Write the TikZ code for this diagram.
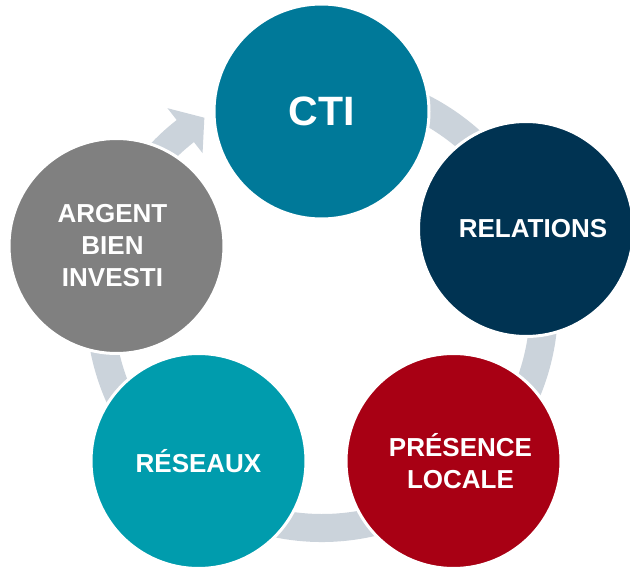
\documentclass[tikz,border=0pt]{standalone}
\usepackage{fontspec}
\setmainfont{Liberation Sans}
\usetikzlibrary{positioning,calc}

\definecolor{ctiblue}{RGB}{0,121,153}
\definecolor{relnavy}{RGB}{0,51,82}
\definecolor{prered}{RGB}{168,0,20}
\definecolor{resteal}{RGB}{0,156,173}
\definecolor{arggray}{RGB}{128,128,128}
\definecolor{ringgray}{RGB}{203,211,219}

\begin{document}
\begin{tikzpicture}[
  x=1pt, y=1pt,
  stage/.style={circle, draw=white, line width=3pt, minimum size=215pt, inner sep=0pt},
  stagetext/.style={text=white, align=center, font=\bfseries\fontsize{26}{32}\selectfont},
  ring/.style={fill=ringgray}
]
\useasboundingbox (0,0) rectangle (630,568);

% =======================================================
%                     CYCLE ARROW
% =======================================================
\coordinate (hub) at (322,262);
\fill[ring, shift={(hub)}] (128:208) arc[start angle=128, end angle=460, radius=208]
  -- (460:236) arc[start angle=460, end angle=128, radius=236]
  -- (128:251) -- (122:222) -- (128:194) -- cycle;

% =======================================================
%                     STAGES
% =======================================================
\node[stage, fill=ctiblue, stagetext, font=\bfseries\fontsize{41}{48}\selectfont] (cti) at (321.5,456.5) {CTI};
\node[stage, fill=relnavy, label={[stagetext, xshift=7pt]center:RELATIONS}] (rel) at (526,339) {};
\node[stage, fill=prered, label={[stagetext, xshift=7pt]center:PRÉSENCE\\LOCALE}] (pre) at (453.5,107) {};
\node[stage, fill=resteal, stagetext] (res) at (198.5,107) {RÉSEAUX};
\node[stage, fill=arggray, label={[stagetext, xshift=-4pt]center:ARGENT\\BIEN\\INVESTI}] (arg) at (116.5,322) {};

\end{tikzpicture}
\end{document}
